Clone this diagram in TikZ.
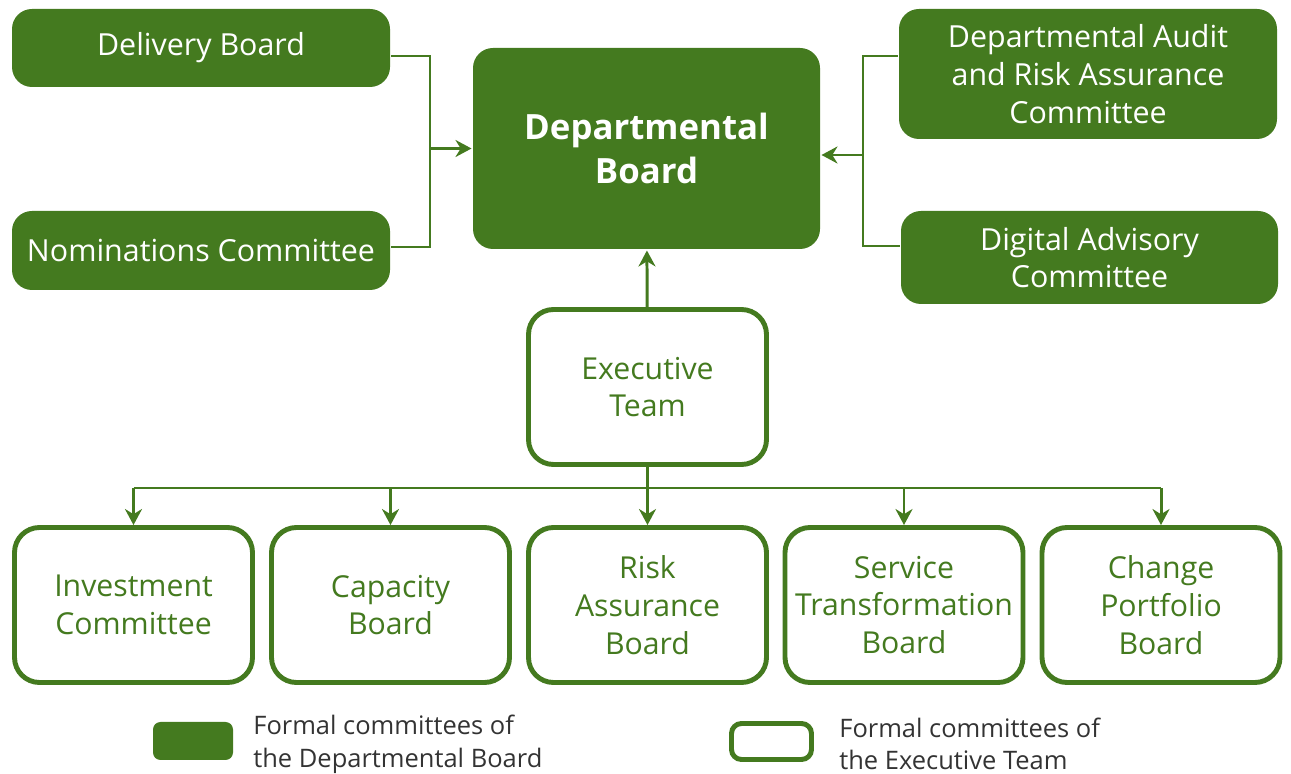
\documentclass[tikz,border=0pt]{standalone}
\usepackage{fontspec}
\setmainfont{Open Sans}
\usetikzlibrary{arrows.meta, positioning}
\definecolor{cgreen}{HTML}{447A1F}
\definecolor{ctext}{HTML}{333333}
\tikzset{
  every picture/.style={line width=1.7pt},
  board/.style={fill=cgreen, text=white, rounded corners=0.4cm, align=center, inner sep=2pt, minimum width=7.56cm, font=\fontsize{17.3}{21.5}\selectfont},
  exbox/.style={draw=cgreen, fill=white, text=cgreen, line width=2.8pt, rounded corners=0.5cm, align=center, inner sep=2pt, minimum width=4.76cm, minimum height=3.1cm, font=\fontsize{17.2}{21.5}\selectfont},
  wire/.style={draw=cgreen, line width=1.7pt},
  arrow/.style={wire, -{Stealth[length=3.2mm, width=3.4mm]}},
  legend/.style={text=ctext, align=left, anchor=west, font=\fontsize{14.5}{18.6}\selectfont},
}

\begin{document}
\begin{tikzpicture}
  \useasboundingbox (0,0) rectangle (25.82,-15.48);

  % departmental board and its committees
  \node[board, minimum width=6.94cm, minimum height=4.02cm, font=\bfseries\fontsize{19.8}{25}\selectfont] (dboard) at (12.93,-2.97) {Departmental\\Board};
  \node[board, minimum height=1.56cm] (deliv) at (4.02,-0.96) {Delivery Board};
  \node[board, minimum height=1.58cm] (nomin) at (4.02,-5.01) {Nominations Committee};
  \node[board, minimum height=2.6cm] (audit) at (21.76,-1.48) {Departmental Audit\\and Risk Assurance\\Committee};
  \node[board, minimum width=7.54cm, minimum height=1.86cm] (digital) at (21.79,-5.15) {Digital Advisory\\Committee};

  % executive team and its committees
  \node[exbox] (exec) at (12.95,-7.74) {Executive\\Team};
  \node[exbox] (invest)   at (2.67,-12.1)  {Investment\\Committee};
  \node[exbox] (capacity) at (7.81,-12.1)  {Capacity\\Board};
  \node[exbox] (risk)     at (12.95,-12.1) {Risk\\Assurance\\Board};
  \node[exbox] (service)  at (18.08,-12.1) {Service\\Transformation\\Board};
  \node[exbox] (change)   at (23.22,-12.1) {Change\\Portfolio\\Board};

  % links
  \coordinate (lbus) at (8.6,-2.97);
  \coordinate (rbus) at (17.26,-3.1);
  \coordinate (bus) at (12.95,-9.76);
  \draw[wire] ([yshift=-0.16cm]deliv.east) -| (lbus) |- ([yshift=0.07cm]nomin.east);
  \draw[arrow] (lbus) -- (dboard.west);
  \draw[wire] ([yshift=-0.16cm]audit.west |- deliv.east) -| (rbus) |- ([yshift=0.09cm]digital.west |- nomin.east);
  \draw[arrow] (rbus) -- (rbus -| dboard.east);
  \draw[arrow] (exec) -- (dboard);
  \draw[arrow] (exec) -- (risk);
  \draw[wire] (invest.north |- bus) -- (change.north |- bus);
  \foreach \n in {invest, capacity, service, change}
    \draw[arrow] (\n.north |- bus) -- (\n.north);

  % legend
  \node[board, minimum width=1.6cm, minimum height=0.76cm, rounded corners=0.15cm] (keyd) at (3.86,-14.82) {};
  \node[legend] (keydtxt) at (4.92,-14.88) {Formal committees of\\the Departmental Board};
  \node[exbox, minimum width=1.6cm, minimum height=0.72cm, rounded corners=0.2cm] (keye) at (15.43,-14.83) {};
  \node[legend] (keyetxt) at (16.64,-14.88) {Formal committees of\\the Executive Team};
\end{tikzpicture}
\end{document}
